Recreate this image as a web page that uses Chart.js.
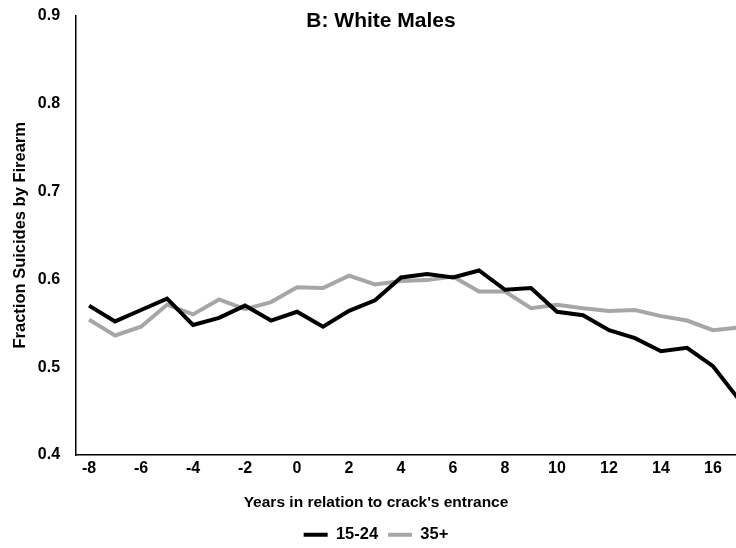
<!DOCTYPE html>
<html>
<head>
<meta charset="utf-8">
<script src="https://cdn.jsdelivr.net/npm/chart.js@4.4.1/dist/chart.umd.min.js"></script>
<style>
  html, body { margin: 0; padding: 0; background: #fff; overflow: hidden; }
  #wrap { width: 760px; height: 560px; margin-top: -10px; }
</style>
</head>
<body>
<div id="wrap"><canvas id="grafica"></canvas></div>
<script>
// years relative to crack's entrance
const anios = [-8, -7, -6, -5, -4, -3, -2, -1, 0, 1, 2, 3, 4, 5, 6, 7, 8, 9, 10, 11, 12, 13, 14, 15, 16, 17];
const edad15a24 = [0.570, 0.552, 0.565, 0.578, 0.548, 0.556, 0.570, 0.553, 0.563, 0.546, 0.564, 0.576, 0.602,
  0.606, 0.602, 0.610, 0.588, 0.590, 0.563, 0.559, 0.542, 0.533, 0.518, 0.522, 0.501, 0.463];
const edad35mas = [0.554, 0.536, 0.546, 0.571, 0.560, 0.577, 0.566, 0.574, 0.591, 0.590, 0.604, 0.594, 0.598,
  0.599, 0.603, 0.586, 0.586, 0.567, 0.571, 0.567, 0.564, 0.565, 0.558, 0.553, 0.542, 0.545];
const ticksY = [0.4, 0.5, 0.6, 0.7, 0.8, 0.9];

const fuente = "'Liberation Sans', Arial, sans-serif";

// chart title sits inside the plot area, so draw it by hand
const tituloPlugin = {
  id: 'tituloInterno',
  afterDraw(chart) {
    const ctx = chart.ctx;
    ctx.save();
    ctx.font = 'bold 21px ' + fuente;
    ctx.fillStyle = '#000';
    ctx.textAlign = 'center';
    ctx.textBaseline = 'middle';
    ctx.fillText('B: White Males', 381, 31); // canvas is shifted up 10px
    ctx.restore();
  }
};

new Chart(document.getElementById('grafica'), {
  type: 'line',
  data: {
    labels: anios,
    datasets: [
      { label: '15-24', data: edad15a24, borderColor: '#000000', backgroundColor: '#000000', borderWidth: 4, pointRadius: 0, tension: 0 },
      { label: '35+', data: edad35mas, borderColor: '#a6a6a6', backgroundColor: '#a6a6a6', borderWidth: 4, pointRadius: 0, tension: 0 }
    ]
  },
  options: {
    responsive: true,
    maintainAspectRatio: false,
    animation: false,
    layout: { padding: { left: 0, right: 8, top: -2, bottom: -3 } },
    scales: {
      x: {
        type: 'category',
        offset: true,
        grid: { display: false, drawTicks: false },
        border: { color: '#000', width: 1.5 },
        ticks: {
          autoSkip: false,
          maxRotation: 0,
          padding: 4,
          color: '#000',
          font: { family: fuente, weight: 'bold', size: 16 },
          callback(v, i) { return anios[i] % 2 === 0 ? String(anios[i]) : ''; }
        }
      },
      y: {
        min: 0.4,
        max: 0.9,
        afterBuildTicks(scale) { scale.ticks = ticksY.map(v => ({ value: v })); },
        grid: { display: false, drawTicks: false },
        border: { color: '#000', width: 1.5 },
        ticks: {
          padding: 16,
          color: '#000',
          font: { family: fuente, weight: 'bold', size: 16 },
          callback(v) { return v.toFixed(1); }
        },
        title: {
          display: true,
          text: 'Fraction Suicides by Firearm',
          color: '#000',
          padding: { top: 11, bottom: -9 },
          font: { family: fuente, weight: 'bold', size: 16.5 }
        }
      }
    },
    plugins: {
      title: { display: false },
      subtitle: {
        display: true,
        position: 'bottom',
        weight: 500,
        text: "Years in relation to crack's entrance",
        color: '#000',
        padding: { top: 11.7, bottom: 4 },
        font: { family: fuente, weight: 'bold', size: 15.5 }
      },
      legend: {
        position: 'bottom',
        labels: {
          boxWidth: 24,
          boxHeight: 4,
          padding: 10,
          color: '#000',
          font: { family: fuente, weight: 'bold', size: 16.5 },
          generateLabels(chart) {
            return Chart.defaults.plugins.legend.labels.generateLabels(chart).map(l => ({ ...l, lineWidth: 0 }));
          }
        }
      },
      tooltip: { enabled: false }
    }
  },
  plugins: [tituloPlugin]
});
</script>
</body>
</html>
